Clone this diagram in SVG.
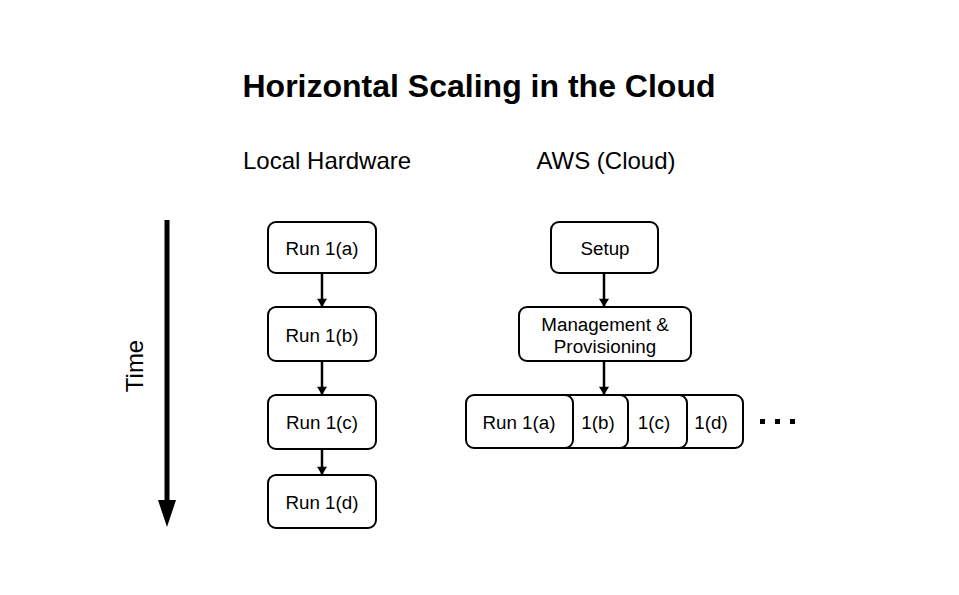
<svg xmlns="http://www.w3.org/2000/svg" width="959" height="595" viewBox="0 0 959 595">
<style>
.box{fill:#fff;stroke:#000;stroke-width:2}
.t{font-family:"Liberation Sans",Arial,sans-serif;font-size:18.8px;fill:#000;text-anchor:middle;dominant-baseline:central}
.h{font-family:"Liberation Sans",Arial,sans-serif;font-size:24px;fill:#000}
.c{stroke:#000;stroke-width:2.5;fill:none}
</style>
<defs>
<marker id="ah" viewBox="0 0 10 12" refX="10" refY="6" markerWidth="12" markerHeight="10" markerUnits="userSpaceOnUse" orient="auto">
<path d="M0,0 L10,6 L0,12 z" fill="#000"/>
</marker>
</defs>
<rect width="959" height="595" fill="#fff"/>
<text x="479" y="97" font-family="Liberation Sans,Arial,sans-serif" font-weight="bold" font-size="31" text-anchor="middle" textLength="473" lengthAdjust="spacingAndGlyphs">Horizontal Scaling in the Cloud</text>
<text class="h" x="243" y="169">Local Hardware</text>
<text class="h" x="606" y="169" text-anchor="middle">AWS (Cloud)</text>

<g id="time">
<line x1="167" y1="220" x2="167" y2="502" stroke="#000" stroke-width="5"/>
<path d="M158,500 L176,500 L167,527 z" fill="#000"/>
<text class="h" transform="translate(143,366) rotate(-90)" text-anchor="middle">Time</text>
</g>

<g id="connectors">
<line class="c" x1="322" y1="273" x2="322" y2="307" marker-end="url(#ah)"/>
<line class="c" x1="322" y1="361" x2="322" y2="395" marker-end="url(#ah)"/>
<line class="c" x1="322" y1="449" x2="322" y2="475" marker-end="url(#ah)"/>
<line class="c" x1="604" y1="273" x2="604" y2="307" marker-end="url(#ah)"/>
<line class="c" x1="604" y1="361" x2="604" y2="395" marker-end="url(#ah)"/>
</g>

<g id="l1"><rect class="box" x="268" y="222" width="108" height="51" rx="8"/><text class="t" x="322" y="248">Run 1(a)</text></g>
<g id="l2"><rect class="box" x="268" y="307" width="108" height="54" rx="8"/><text class="t" x="322" y="335">Run 1(b)</text></g>
<g id="l3"><rect class="box" x="268" y="395" width="108" height="54" rx="8"/><text class="t" x="322" y="422">Run 1(c)</text></g>
<g id="l4"><rect class="box" x="268" y="475" width="108" height="53" rx="8"/><text class="t" x="322" y="502">Run 1(d)</text></g>

<g id="setup"><rect class="box" x="551" y="222" width="107" height="51" rx="8"/><text class="t" x="605" y="248">Setup</text></g>
<g id="mgmt"><rect class="box" x="519" y="307" width="172" height="54" rx="8"/><text class="t" x="605" y="324">Management &amp;</text><text class="t" x="605" y="346">Provisioning</text></g>

<g id="r1d"><rect class="box" x="635" y="395" width="108" height="53" rx="8"/><text class="t" x="711" y="422">1(d)</text></g>
<g id="r1c"><rect class="box" x="579" y="395" width="108" height="53" rx="8"/><text class="t" x="654" y="422">1(c)</text></g>
<g id="r1b"><rect class="box" x="520" y="395" width="108" height="53" rx="8"/><text class="t" x="598" y="422">1(b)</text></g>
<g id="r1a"><rect class="box" x="466" y="395" width="107" height="53" rx="8"/><text class="t" x="519" y="422">Run 1(a)</text></g>

<g id="dots" fill="#000">
<rect x="760" y="419" width="5" height="5"/>
<rect x="775" y="419" width="5" height="5"/>
<rect x="790" y="419" width="5" height="5"/>
</g>
</svg>
